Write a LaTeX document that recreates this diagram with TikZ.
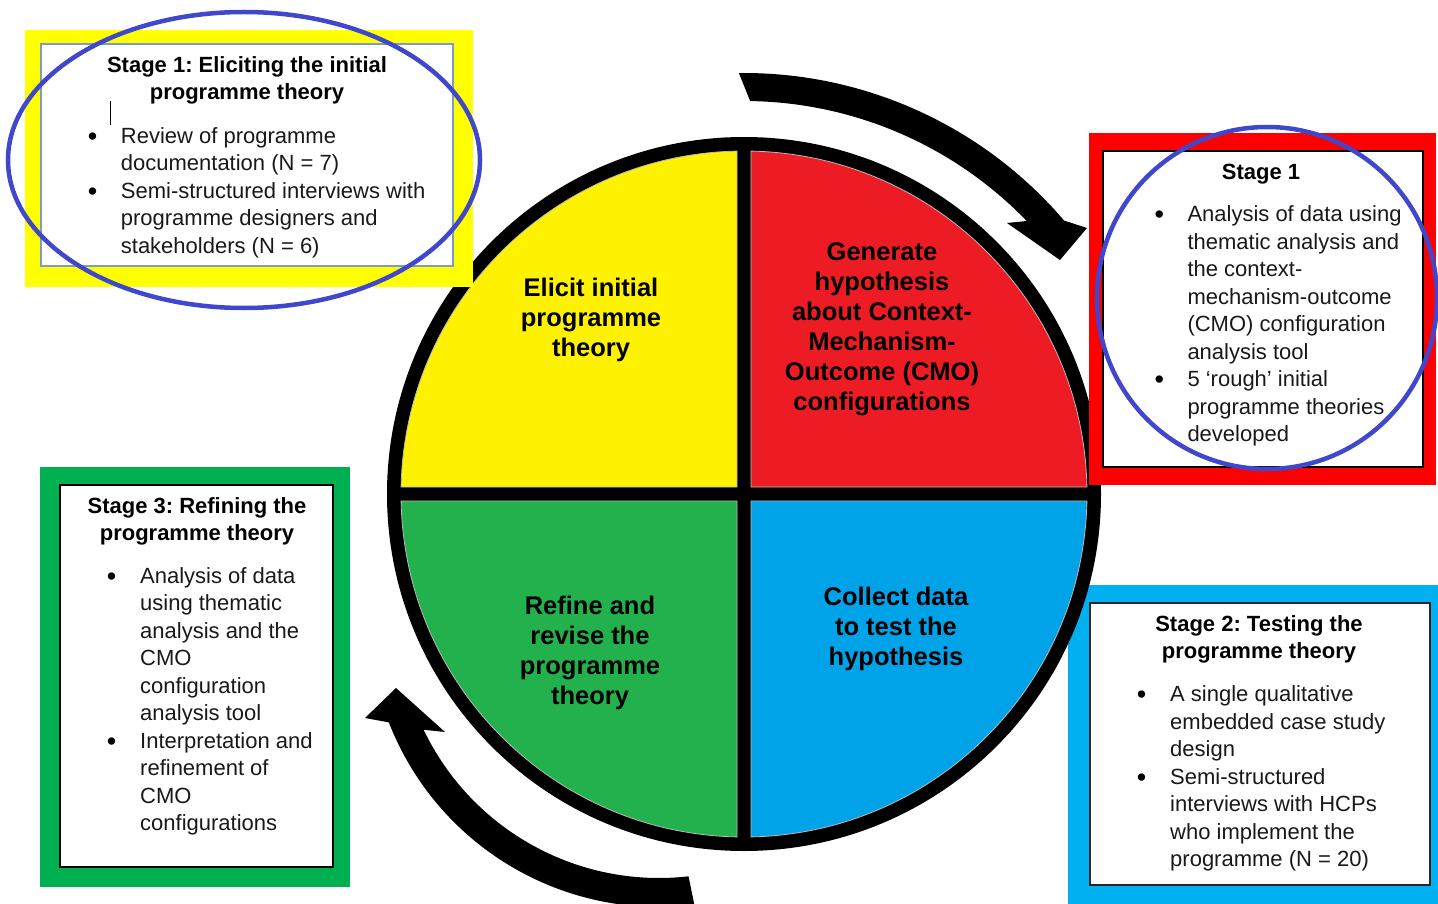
\documentclass[tikz,border=0pt]{standalone}
\usepackage{fontspec}
\setmainfont{Liberation Sans}
\usetikzlibrary{calc}
\frenchspacing

\definecolor{quadYellow}{RGB}{255,242,0}
\definecolor{quadRed}{RGB}{237,28,36}
\definecolor{quadGreen}{RGB}{34,177,76}
\definecolor{quadBlue}{RGB}{0,162,232}
\definecolor{frameYellow}{RGB}{255,255,0}
\definecolor{frameRed}{RGB}{255,0,0}
\definecolor{frameGreen}{RGB}{0,176,80}
\definecolor{frameBlue}{RGB}{0,176,240}
\definecolor{markBlue}{RGB}{63,72,204}
\definecolor{paleEdge}{RGB}{125,155,200}

% multi-line text blocks whose baseline is the first line
\newcommand\leftlines[1]{\parbox[t]{420pt}{\raggedright #1}}
\newcommand\midlines[1]{\parbox[t]{400pt}{\centering #1}}

\tikzset{
  bodytext/.style={anchor=base west, inner sep=0pt, text=black!90,
                   font=\fontsize{22}{27.5}\selectfont},
  bulletmark/.style={anchor=base, inner sep=0pt, text=black, yshift=-2,
                     font=\fontsize{27}{30}\selectfont},
  heading/.style={anchor=base, inner sep=0pt, text=black,
                  font=\fontsize{22}{27}\selectfont\bfseries},
  quadlabel/.style={anchor=base, inner sep=0pt, text=black,
                    font=\fontsize{25.5}{30}\selectfont\bfseries},
  quadrant/.style={draw=gray!55, line width=0.8},
  hilite/.style={draw=markBlue, line width=4.5},
  cyclearrow/.style={fill=black},
}

\begin{document}
\begin{tikzpicture}[x=1pt, y=-1pt]
\useasboundingbox (0,0) rectangle (1438,904);
\fill[white] (0,0) rectangle (1438,904);
\coordinate (C) at (744,494);   % centre of the wheel
\coordinate (O) at (659,617);   % centre of the lower arrow's bend

% ---- Stage 2 frame (lies under the wheel) ----
\fill[frameBlue] (1068,585) rectangle (1438,904);
\filldraw[fill=white, draw=black!85, line width=1.5] (1090,603) rectangle (1430,885);

% ---- Stage 3 frame ----
\fill[frameGreen] (40,467) rectangle (350,887);
\filldraw[fill=white, draw=black, line width=1.5] (60,485) rectangle (333,867);

% ---- the wheel ----
\fill[black] (C) circle[radius=357];
\fill[quadYellow, quadrant] ($(C)+(-7,-7)$) -- ($(C)+(181.17:343)$)
  arc[start angle=181.17, end angle=268.83, radius=343] -- cycle;
\fill[quadRed, quadrant] ($(C)+(7,-7)$) -- ($(C)+(271.17:343)$)
  arc[start angle=271.17, end angle=358.83, radius=343] -- cycle;
\fill[quadBlue, quadrant] ($(C)+(7,7)$) -- ($(C)+(1.17:343)$)
  arc[start angle=1.17, end angle=88.83, radius=343] -- cycle;
\fill[quadGreen, quadrant] ($(C)+(-7,7)$) -- ($(C)+(91.17:343)$)
  arc[start angle=91.17, end angle=178.83, radius=343] -- cycle;

% ---- curved cycle arrows ----
\fill[cyclearrow] ($(C)+(-90.7:421)$) arc[start angle=-90.7, end angle=-40.5, radius=421]
  -- (1087,228) -- (1060,260) -- (1007,223)
  -- ($(C)+(-44:393)$) arc[start angle=-44, end angle=-89.1, radius=393] -- cycle;

\fill[cyclearrow] ($(O)+(83.5:261)$) arc[start angle=83.5, end angle=154.4, radius=261]
  -- (445,732) -- (396,688) -- (365,718)
  -- ($(O)+(158.7:290)$) arc[start angle=158.7, end angle=83.0, radius=290] -- cycle;

% ---- Stage 1 frames (drawn over the wheel) ----
\fill[frameYellow] (25,30) rectangle (473,287);
\filldraw[fill=white, draw=paleEdge, line width=1.2] (41,44) rectangle (453,266);
\fill[frameRed] (1089,133) rectangle (1436,485);
\filldraw[fill=white, draw=black, line width=1.5] (1103,151) rectangle (1423,467);

% ---- wheel labels ----
\node[quadlabel] (qElicit) at (591,296) {\midlines{Elicit initial\\programme\\theory}};
\node[quadlabel] (qGenerate) at (882,261) {\midlines{Generate\\hypothesis\\about Context-\\Mechanism-\\Outcome (CMO)\\configurations}};
\node[quadlabel] (qRefine) at (590,614) {\midlines{Refine and\\revise the\\programme\\theory}};
\node[quadlabel] (qCollect) at (896,605) {\midlines{Collect data\\to test the\\hypothesis}};

% ---- Stage 1: eliciting ----
\node[heading] (yTitle) at (247,72.7) {\midlines{Stage 1: Eliciting the initial\\programme theory}};
\draw[line width=1] (110,101.5) -- (110,125);
\node[bulletmark] (yB1) at (92.7,143.3) {•};
\node[bodytext] (yI1) at (120.7,143.3) {\leftlines{Review of programme\\documentation (N = 7)}};
\node[bulletmark] (yB2) at (92.7,198.3) {•};
\node[bodytext] (yI2) at (120.7,198.3) {\leftlines{Semi-structured interviews with\\programme designers and\\stakeholders (N = 6)}};

% ---- Stage 1: analysis ----
\node[heading] (rTitle) at (1261,179.3) {Stage 1};
\node[bulletmark] (rB1) at (1159.3,221.7) {•};
\node[bodytext] (rI1) at (1187.3,221.7) {\leftlines{Analysis of data using\\thematic analysis and\\the context-\\mechanism-outcome\\(CMO) configuration\\analysis tool}};
\node[bulletmark] (rB2) at (1159.3,386.7) {•};
\node[bodytext] (rI2) at (1187.3,386.7) {\leftlines{5 ‘rough’ initial\\programme theories\\developed}};

% ---- Stage 3 ----
\node[heading] (gTitle) at (197,513.3) {\midlines{Stage 3: Refining the\\programme theory}};
\node[bulletmark] (gB1) at (111.7,583.3) {•};
\node[bodytext] (gI1) at (140,583.3) {\leftlines{Analysis of data\\using thematic\\analysis and the\\CMO\\configuration\\analysis tool}};
\node[bulletmark] (gB2) at (111.7,748.3) {•};
\node[bodytext] (gI2) at (140,748.3) {\leftlines{Interpretation and\\refinement of\\CMO\\configurations}};

% ---- Stage 2 ----
\node[heading] (bTitle) at (1259,631.7) {\midlines{Stage 2: Testing the\\programme theory}};
\node[bulletmark] (bB1) at (1141.7,701.7) {•};
\node[bodytext] (bI1) at (1170,701.7) {\leftlines{A single qualitative\\embedded case study\\design}};
\node[bulletmark] (bB2) at (1141.7,784.2) {•};
\node[bodytext] (bI2) at (1170,784.2) {\leftlines{Semi-structured\\interviews with HCPs\\who implement the\\programme (N = 20)}};

% ---- hand-drawn highlight rings ----
\draw[hilite] (244,160) ellipse[x radius=236, y radius=148];
\draw[hilite] (1267,298) ellipse[x radius=170, y radius=171];
\end{tikzpicture}
\end{document}
